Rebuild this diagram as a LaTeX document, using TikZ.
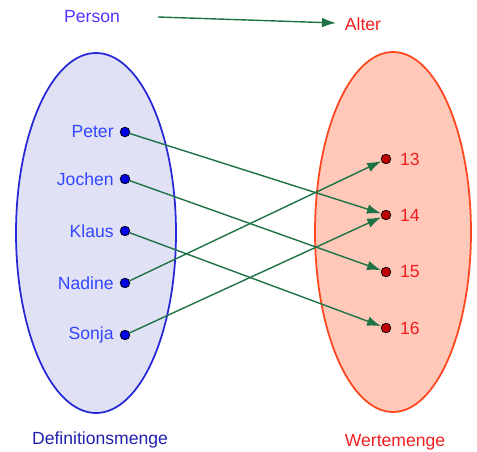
\documentclass[tikz,border=0pt]{standalone}
\usepackage{fontspec}
\setmainfont{Liberation Sans}
\usetikzlibrary{arrows.meta}
\definecolor{setblue}{RGB}{40,40,215}
\definecolor{setfill}{RGB}{225,225,245}
\definecolor{rangered}{RGB}{255,70,30}
\definecolor{rangefill}{RGB}{255,200,185}
\definecolor{namecol}{RGB}{50,70,255}
\definecolor{titlecol}{RGB}{85,50,255}
\definecolor{numcol}{RGB}{240,30,30}
\definecolor{mapgreen}{RGB}{30,115,70}

\begin{document}
\begin{tikzpicture}[x=0.02cm, y=-0.02cm, font=\fontsize{10}{12}\selectfont]
    \tikzset{
        dom/.style = {circle, draw=black, fill=blue!90!black, inner sep=0pt, minimum size=5.5pt},
        cod/.style = {circle, draw=black, fill=red!75!black, inner sep=0pt, minimum size=5.5pt},
        map/.style = {draw=mapgreen, line width=0.8pt, -{Latex[length=8pt,width=5.5pt]}}
    }
    \useasboundingbox (0,0) rectangle (477,452);
    % sets
    \draw[setblue, line width=1pt, fill=setfill] (96,233) ellipse [x radius=80, y radius=180];
    \draw[rangered, line width=1pt, fill=rangefill] (393,232) ellipse [x radius=78, y radius=180];
    % titles
    \node[text=titlecol] (person) at (92,17) {Person};
    \node[text=numcol] (alter) at (363,24) {Alter};
    \coordinate (from) at (158,17);
    \coordinate (to) at (336,23);
    \draw[map] (from) -- (to);
    \node[text=setblue!80!black] (defmenge) at (100,440) {Definitionsmenge};
    \node[text=numcol] (wertmenge) at (395,442) {Wertemenge};
    % elements
    \node[dom, label={[text=namecol]left:Peter}] (peter) at (125,132) {};
    \node[dom, label={[text=namecol]left:Jochen}] (jochen) at (125,179) {};
    \node[dom, label={[text=namecol]left:Klaus}] (klaus) at (125,231) {};
    \node[dom, label={[text=namecol]left:Nadine}] (nadine) at (125,283) {};
    \node[dom, label={[text=namecol]left:Sonja}] (sonja) at (125,335) {};
    \node[cod, label={[text=numcol, label distance=1.5pt]right:13}] (n13) at (386,159) {};
    \node[cod, label={[text=numcol, label distance=1.5pt]right:14}] (n14) at (386,215) {};
    \node[cod, label={[text=numcol, label distance=1.5pt]right:15}] (n15) at (386,272) {};
    \node[cod, label={[text=numcol, label distance=1.5pt]right:16}] (n16) at (386,328) {};
    % assignment
    \draw[map] (peter) -- (n14);
    \draw[map] (jochen) -- (n15);
    \draw[map] (klaus) -- (n16);
    \draw[map] (nadine) -- (n13);
    \draw[map] (sonja) -- (n14);
\end{tikzpicture}
\end{document}
